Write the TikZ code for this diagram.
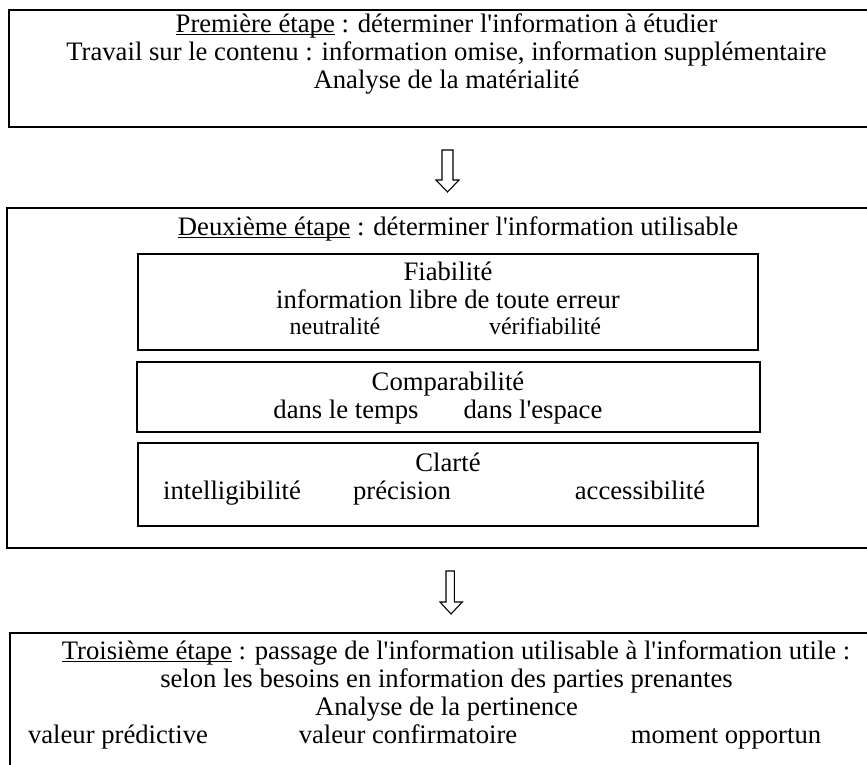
\documentclass[tikz,border=0pt]{standalone}
\usepackage{fontspec}
\setmainfont{Liberation Serif}[Ligatures=TeXOff]
\usetikzlibrary{fit}
\newcommand{\myul}[1]{\begingroup\setbox0\hbox{#1}\rlap{\vrule height -1.8pt depth 2.5pt width \wd0}\box0\endgroup}
\begin{document}
\begin{tikzpicture}[x=0.75pt,y=-0.75pt,
  box/.style={draw, line width=1.15pt, inner sep=0pt},
  txt/.style={anchor=base, inner sep=0pt, font=\fontsize{20}{24}\selectfont},
  stxt/.style={anchor=base, inner sep=0pt, font=\fontsize{18}{22}\selectfont},
  barrow/.style={draw, line width=0.8pt, fill=white, line join=miter}]
\useasboundingbox (0,0) rectangle (867,764);
\clip (0,0) rectangle (867,764);
% box 1
\coordinate (b1nw) at (9,10); \coordinate (b1se) at (884,127);
\node[box, fit=(b1nw)(b1se)] (b1) {};
\node[txt] (t11) at (446.5,32) {\myul{Première étape} : déterminer l'information à étudier};
\node[txt] (t12) at (446.5,60) {Travail sur le contenu : information omise, information supplémentaire};
\node[txt] (t13) at (446.5,88) {Analyse de la matérialité};
% arrow 1
\draw[barrow] (442,150) -- (453,150) -- (453,180) -- (459,180) -- (447.5,192) -- (436,180) -- (442,180) -- cycle;
% box 2
\coordinate (b2nw) at (7,208); \coordinate (b2se) at (886,548);
\node[box, fit=(b2nw)(b2se)] (b2) {};
\node[txt] (t21) at (458,235) {\myul{Deuxième étape} : déterminer l'information utilisable};
% Fiabilite
\coordinate (f1) at (138,254); \coordinate (f2) at (758,350);
\node[box, fit=(f1)(f2)] (fia) {};
\node[txt] (tf1) at (448,280) {Fiabilité};
\node[txt] (tf2) at (448,308) {information libre de toute erreur};
\node[stxt] (tf3) at (335,334) {neutralité};
\node[stxt] (tf4) at (545,334) {vérifiabilité};
% Comparabilite
\coordinate (c1) at (137,362); \coordinate (c2) at (760,432);
\node[box, fit=(c1)(c2)] (comp) {};
\node[txt] (tc1) at (448,390) {Comparabilité};
\node[txt] (tc2) at (346,418) {dans le temps};
\node[txt] (tc3) at (533,418) {dans l'espace};
% Clarte
\coordinate (k1) at (138,443); \coordinate (k2) at (758,526);
\node[box, fit=(k1)(k2)] (clar) {};
\node[txt] (tk1) at (448,471) {Clarté};
\node[txt] (tk2) at (232,499) {intelligibilité};
\node[txt] (tk3) at (402,499) {précision};
\node[txt] (tk4) at (640,499) {accessibilité};
% arrow 2
\draw[barrow] (446,571) -- (454.3,571) -- (454.3,602) -- (462.3,602) -- (451,614) -- (440,602) -- (446,602) -- cycle;
% box 3
\coordinate (b3nw) at (10,633); \coordinate (b3se) at (883,800);
\node[box, fit=(b3nw)(b3se)] (b3) {};
\node[txt] (t31) at (456,659) {\myul{Troisième étape} : passage de l'information utilisable à l'information utile :};
\node[txt] (t32) at (446.5,687) {selon les besoins en information des parties prenantes};
\node[txt] (t33) at (446.5,715) {Analyse de la pertinence};
\node[txt] (t34) at (118,743) {valeur prédictive};
\node[txt] (t35) at (408,743) {valeur confirmatoire};
\node[txt] (t36) at (726,743) {moment opportun};
\end{tikzpicture}
\end{document}
